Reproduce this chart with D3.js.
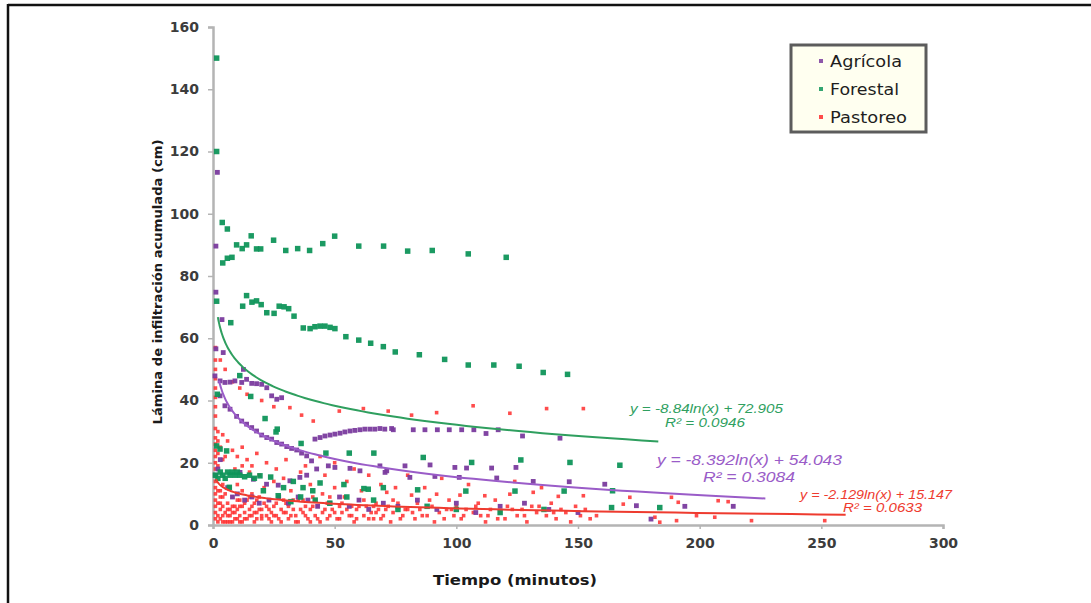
<!DOCTYPE html>
<html>
<head>
<meta charset="utf-8">
<script src="https://cdn.jsdelivr.net/npm/d3@7"></script>
<style>
  body { margin: 0; background: #fff; }
  svg { display: block; }
  .tick-label { font-family: "DejaVu Sans", sans-serif; font-weight: bold; font-size: 14px; fill: #3c3c3c; }
  .axis-title { font-family: "DejaVu Sans", sans-serif; font-weight: bold; fill: #1a1a1a; }
  .legend-text { font-family: "DejaVu Sans", sans-serif; font-size: 15px; fill: #1e1e1e; }
  .eq { font-family: "Liberation Sans", Arial, sans-serif; font-style: italic; }
</style>
</head>
<body>
<svg id="chart" width="1091" height="603"></svg>
<script>
// ---- data (x = minutes, y = cm) ----
var seriesNames = ["Agrícola", "Forestal", "Pastoreo"];
var seriesColors = ["#7a3b9e", "#0f955a", "#ff2d2d"];
var fitColors = ["#9a5cc8", "#2f9f5f", "#ee3b2f"];

var xTicks = [0, 50, 100, 150, 200, 250, 300];
var yTicks = [0, 20, 40, 60, 80, 100, 120, 140, 160];

var forestal = [
  [1.5,150],[1.5,120],[3.8,97.2],[5.9,95.1],[4,84.2],[5.9,85.7],[7.8,86],[9.7,90],[12,88.8],[13.8,90],
  [15.7,92.9],[17.9,88.7],[19.6,88.7],[24.9,91.5],[29.9,88.2],[34.8,88.8],[39.7,88.2],[45.1,90.4],[50,92.8],
  [59.9,89.6],[70.1,89.6],[80,88],[90.1,88.2],[104.9,87.1],[120.5,86],
  [1.5,71.9],[7.3,65],[13.8,73.7],[12.2,70.3],[16,71.6],[17.9,72],[19.8,70.8],[22.1,68.2],[25.1,68],
  [27.2,70.3],[29.2,70.1],[31.1,69.5],[33.3,67.1],[37.1,63.3],[39.9,63.1],[41.9,63.7],[44,63.9],[46,63.9],
  [48.1,63.5],[50.1,63.1],[54.6,60.5],[59.9,59.4],[64.8,58.4],[70,57.3],[74.9,55.6],[84.8,54.7],[95.2,53.2],
  [104.9,51.4],[115.4,51.4],[125.8,51],[135.7,49],[145.7,48.4],
  [1.8,42],[11,48],[15.5,41.3],[21.4,34.2],[25.9,29.9],[26.4,30.8],[36.2,26.2],[46.4,23.1],[56,23.1],[66.1,23.1],
  [1.5,25.4],[2.9,24.4],[5.6,23.8],[86.4,21.7],[106.3,20.1],[126.5,20.9],[146.7,20.1],[167.2,19.2],
  [1,16],[2,15],[3,17],[4,16],[5,15],[6,17],[7,16],[8,17],[9,16],[10,17],[11,16],[13,15.5],[15,16],
  [17,15],[19.3,15.8],[23.7,15.4],[29,12],[33,14],[37,12],[41,11],[44,13.5],[53.8,13],[63.8,11.5],
  [6.7,12.1],[20.7,11],[26.8,9.4],[32,7.5],[36,9],[42,8],[48,7],[55,9],[62,11.7],[66,8],[70,12],
  [84.1,11.3],[103.9,10.9],[124.1,10.9],[144.3,10.9],[164.2,11],[76,5],[88,6],[100,5],[118,4],[136,5],
  [163.8,5.6],[183.6,5.6]
];

var agricola = [
  [1.8,113.3],[1.2,89.6],[1.2,74.8],[3.7,66],[1.2,56.6],[4.2,55.4],[12.5,50],
  [0.8,47.9],[2.9,46.3],[4.9,45.8],[7,45.9],[9,46.3],[11.8,45.8],[13.8,46.8],[15.9,45.5],[17.9,45.4],
  [20,45.2],[22.1,44.1],[24.1,41.5],[26.2,40.4],[28.2,40.9],
  [2.9,41.5],[4.9,38.3],[7,37.2],[9.7,34.9],[11.8,33.4],[13.8,32.4],[15.9,31.3],[17.9,30.2],[20,28.9],
  [22.1,28.1],[24.1,27.6],[26.2,26.5],[28.2,26],[30.3,25.2],[32.3,24.6],[34.4,24.1],[36.4,23.1],[38.5,22.2],
  [40.5,20.6],[42.6,18],[47.4,19],[50.1,18.5],[56.3,18.2],[60.4,17.4],[71.4,17.4],
  [41.9,27.6],[44,28.1],[46,28.6],[48.1,28.9],[50.1,29.2],[52.2,29.5],[54.2,29.9],[56.3,30.2],[58.3,30.4],
  [60.4,30.6],[62.4,30.8],[64.5,30.8],[66.5,30.8],[68.6,31],[70.6,30.8],[73.4,31],[74.1,30.6],[82.3,30.6],
  [87.1,30.6],[92.2,30.6],[97.1,30.6],[102.2,30.6],[107.2,30.6],[112.2,29.4],[117.2,30.6],[127.2,28.6],[142.6,27.9],
  [68.6,19],[70.7,16.9],[78.9,19],[80.9,15.3],[89.2,19.3],[91.2,15.6],[99.4,18.5],[101.2,15.3],[104.2,18.3],
  [114.5,18.3],[116.6,15.1],[124.5,18.5],[131.6,14],[146.4,13.9],[161,13.1],[174,6.2],[193.9,6],[213.8,6],[180,1.9],
  [11.1,16.9],[16.6,14.7],[22,13.1],[26.8,12.8],[31.6,14.2],[35.7,15.3],[38.5,16],
  [1,16],[2,18],[3,21],[6,12],[8,9],[10,10],[13,8],[16,9],[19,7],[23,8],[27,9],[31,7],[35,9],[39,8],
  [43,6],[48,7],[52,9],[56,6],[60,8],[64,5],[70,7],[76,6],[84,8],[92,5],[100,7],[108,4],[118,6],[128,7],
  [138,5],[150,4]
];

var pastoreo = [
  [1,57],[1,53],[1,50],[1,47],[1,44],[1,41],[1,38],[1,35],[1,31],[1,28],[1,26],[1,24],[1,22],[1,20],
  [1,18],[1,14],[1,12],[1,10],[1,8],[1,6],[1,4],[1,2],
  [2,30],[2,27],[2,23],[2,19],[2,11],[2,7],[2,3],[2,1],
  [3,53],[3,25],[3,9],[3,5],[3,2],[4,29],[4,21],[4,13],[4,6],[4,3],[5,50],[5,22],[5,10],[5,4],[5,1],
  [6,27],[6,7],[6,3],[7,12],[7,5],[7,1],[8,46],[8,24],[8,9],[8,4],[9,18],[9,6],[9,2],[10,22],[10,13],[10,5],
  [11,44],[11,8],[11,3],[12,25],[12,19],[12,11],[12,6],[12,1],[13,4],[14,42],[14,21],[14,8],[14,2],
  [15,17],[15,5],[16,19],[16,10],[16,3],[17,7],[17,1],[18,23],[18,4],[19,16],[19,9],[20,40],[20,5],[20,2],
  [21,12],[22,20],[22,6],[22,3],[23,8],[24,1],[24,4],[25,38],[25,14],[25,6],[26,18],[26,3],[27,9],[28,5],
  [28,1],[29,15],[30,21],[30,4],[30,7],[31,2],[31.6,37.7],[32,11],[33,5],[34,3],[35,8],[35,1],[36.4,35.3],
  [36,17],[37,4],[38,19],[38,6],[39,2],[40,13],[40,5],[41,9],[41.2,33.4],[42,3],[43,6],[44,22],[44,1],
  [45,10],[45,4],[46,16],[47,7],[48,3],[49,5],[50,20],[50,12],[51,2],[51.9,36.6],[52,6],[53,4],[54,9],
  [55,14],[56,3],[57,6],[58,18],[58,1],[59,5],[60,8],[61,11],[61.8,37.4],[62,3],[63,6],[64,16],[65,4],
  [66,2],[67,7],[68,5],[69,13],[70,3],[71.4,10.5],[72,36.6],[72,6],[73,1],[74,4],[75,12],[76,7],[78,3],
  [79,5],[80,16],[81.6,35.3],[81.6,9.6],[82,4],[83,2],[84,7],[85,5],[87,12],[88,3],[90,6],[91,1],
  [91.9,36.1],[91.9,9.9],[93,4],[94,15],[96,5],[97,8],[99,3],[100,6],[101.5,9.6],[102,2],[104,5],
  [105,13],[106.9,38.3],[107,4],[109,7],[110,3],[111.7,9.4],[112,1],[114,5],[116,8],[118,4],[120,2],
  [121,6],[122,35.9],[122,9.9],[124,14],[125,3],[127,5],[129,1],[131,6],[131.6,10.5],[133,4],[135,12],
  [137.1,37.4],[137,3],[139,7],[141,2],[141.9,9.2],[143,5],[145,4],[147,1],[149,6],[151,3],[152.2,37.4],
  [152.2,9.4],[153,5],[155,2],[157.6,3],[168.6,6.7],[171.3,8.9],[181.6,2.5],[183.6,0.9],[188.4,8.9],
  [190.5,1.4],[191.2,7.3],[198.7,3],[206.2,2.5],[207.6,7.8],[211.7,7.5],[221.3,1.4],[251.4,1.4],
  // extra dense marks in the lower-left cluster
  [3,7],[3,11],[4,9],[4,1],[6,5],[6,1],[7,3],[8,6],[8,1],[9,4],[10,2],[10,8],[11,6],[11,1],[13,2],[13,7],
  [15,3],[15,9],[16,6],[17,4],[18,2],[18,8],[19,5],[20,3],[21,7],[23,5],[23,2],[25,3],[26,7],[27,2],[29,4],
  [29,8],[31,6],[32,3],[33,8],[34,1],[36,5],[37,8],[38,3],[40,1],[41,6],[42,8],[43,2],[46,5],[47,2],[48,9],
  [50,4],[52,2],[53,7],[55,5],[57,3],[59,2],[60,6],[62,8],[64,2],[66,6],[67,4],[69,2],[71,5],[74,8],[77,2],
  [80,5],[86,3],[89,8],[95,2],[98,5],[103,3],[108,6],[113,3],[117,2],[123,5],[128,3],[134,6],[140,4]
];

// log fits y = a*ln(x) + b, drawn between xStart and xEnd
var fitA = [-8.392, -8.84, -2.129];
var fitB = [54.043, 72.905, 15.147];
var fitStart = [2.5, 2, 1.2];
var fitEnd = [227, 183, 260];
var fitLabels = [
  ["y = -8.392ln(x) + 54.043", "R² = 0.3084"],
  ["y = -8.84ln(x) + 72.905", "R² = 0.0946"],
  ["y = -2.129ln(x) + 15.147", "R² = 0.0633"]
];

var svg = d3.select("#chart");

// frame lines (page scan border)
svg.append("line").attr("x1", 8).attr("x2", 1091).attr("y1", 5).attr("y2", 5)
  .attr("stroke", "#111").attr("stroke-width", 2.5);
svg.append("line").attr("x1", 8).attr("x2", 8).attr("y1", 4).attr("y2", 603)
  .attr("stroke", "#111").attr("stroke-width", 2.5);

var x = d3.scaleLinear().domain([0, 300]).range([213, 943]);
var y = d3.scaleLinear().domain([0, 160]).range([525, 27]);

// axes
var yAxis = d3.axisLeft(y).tickValues(yTicks).tickSize(5).tickPadding(9);
var gy = svg.append("g").attr("transform", "translate(213,0)").call(yAxis);
var xAxis = d3.axisBottom(x).tickValues(xTicks).tickSize(4).tickPadding(9);
var gx = svg.append("g").attr("transform", "translate(0,525)").call(xAxis);

[gy, gx].forEach(function (g) {
  g.select(".domain").attr("stroke", "#b4b4b4").attr("stroke-width", 2.5);
  g.selectAll(".tick line").attr("stroke", "#b4b4b4").attr("stroke-width", 1.5);
  g.selectAll(".tick text").attr("class", "tick-label").attr("fill", null);
});

// axis titles
svg.append("text").attr("class", "axis-title")
  .attr("transform", "translate(162,282) rotate(-90)")
  .attr("text-anchor", "middle").attr("font-size", 12.5)
  .attr("textLength", 285).attr("lengthAdjust", "spacingAndGlyphs")
  .text("Lámina de infiltración acumulada (cm)");
svg.append("text").attr("class", "axis-title")
  .attr("x", 515).attr("y", 585).attr("text-anchor", "middle").attr("font-size", 14.5)
  .attr("textLength", 164).attr("lengthAdjust", "spacingAndGlyphs")
  .text("Tiempo (minutos)");

// points
var allSeries = [agricola, forestal, pastoreo];
var markSize = [4.8, 5.5, 3.6];
var markOpacity = [0.95, 0.95, 0.85];
// draw pastoreo first (underneath), then agricola, then forestal
[2, 0, 1].forEach(function (i) {
  svg.append("g").selectAll("rect").data(allSeries[i]).enter().append("rect")
    .attr("x", function (d) { return x(d[0]) - markSize[i] / 2; })
    .attr("y", function (d) { return y(d[1]) - markSize[i] / 2; })
    .attr("width", markSize[i]).attr("height", markSize[i])
    .attr("fill", seriesColors[i]).attr("opacity", markOpacity[i]);
});

// fitted log curves
var line = d3.line().x(function (d) { return x(d[0]); }).y(function (d) { return y(d[1]); });
[0, 1, 2].forEach(function (i) {
  var pts = [];
  var steps = 120;
  for (var k = 0; k <= steps; k++) {
    var xv = fitStart[i] * Math.pow(fitEnd[i] / fitStart[i], k / steps);
    pts.push([xv, fitA[i] * Math.log(xv) + fitB[i]]);
  }
  svg.append("path").attr("d", line(pts)).attr("fill", "none")
    .attr("stroke", fitColors[i]).attr("stroke-width", 2);
});

// equation labels: [centre x, eq baseline, r2 centre x, r2 baseline, font size, eq width, r2 width]
var eqPos = [
  [749.5, 465, 749, 482, 14, 185, 92],
  [706.5, 413, 705, 427, 12.5, 153, 80],
  [876, 499, 882.5, 512, 12.5, 152, 79]
];
[0, 1, 2].forEach(function (i) {
  var p = eqPos[i];
  svg.append("text").attr("class", "eq").attr("text-anchor", "middle")
    .attr("fill", fitColors[i]).attr("font-size", p[4])
    .attr("x", p[0]).attr("y", p[1])
    .attr("textLength", p[5]).attr("lengthAdjust", "spacingAndGlyphs")
    .text(fitLabels[i][0]);
  svg.append("text").attr("class", "eq").attr("text-anchor", "middle")
    .attr("fill", fitColors[i]).attr("font-size", p[4])
    .attr("x", p[2]).attr("y", p[3])
    .attr("textLength", p[6]).attr("lengthAdjust", "spacingAndGlyphs")
    .text(fitLabels[i][1]);
});

// legend
var legendWidths = [72, 69, 77];
var lg = svg.append("g").attr("transform", "translate(791,45)");
lg.append("rect").attr("width", 135).attr("height", 87)
  .attr("fill", "#fffff0").attr("stroke", "#5c5c5c").attr("stroke-width", 3);
seriesNames.forEach(function (name, i) {
  var cy = 16 + i * 28;
  lg.append("rect").attr("x", 28).attr("y", cy - 2).attr("width", 4).attr("height", 4)
    .attr("fill", seriesColors[i]).attr("opacity", 0.85);
  lg.append("text").attr("class", "legend-text").attr("x", 39).attr("y", cy + 5.5)
    .attr("textLength", legendWidths[i]).attr("lengthAdjust", "spacingAndGlyphs")
    .text(name);
});
</script>
</body>
</html>
